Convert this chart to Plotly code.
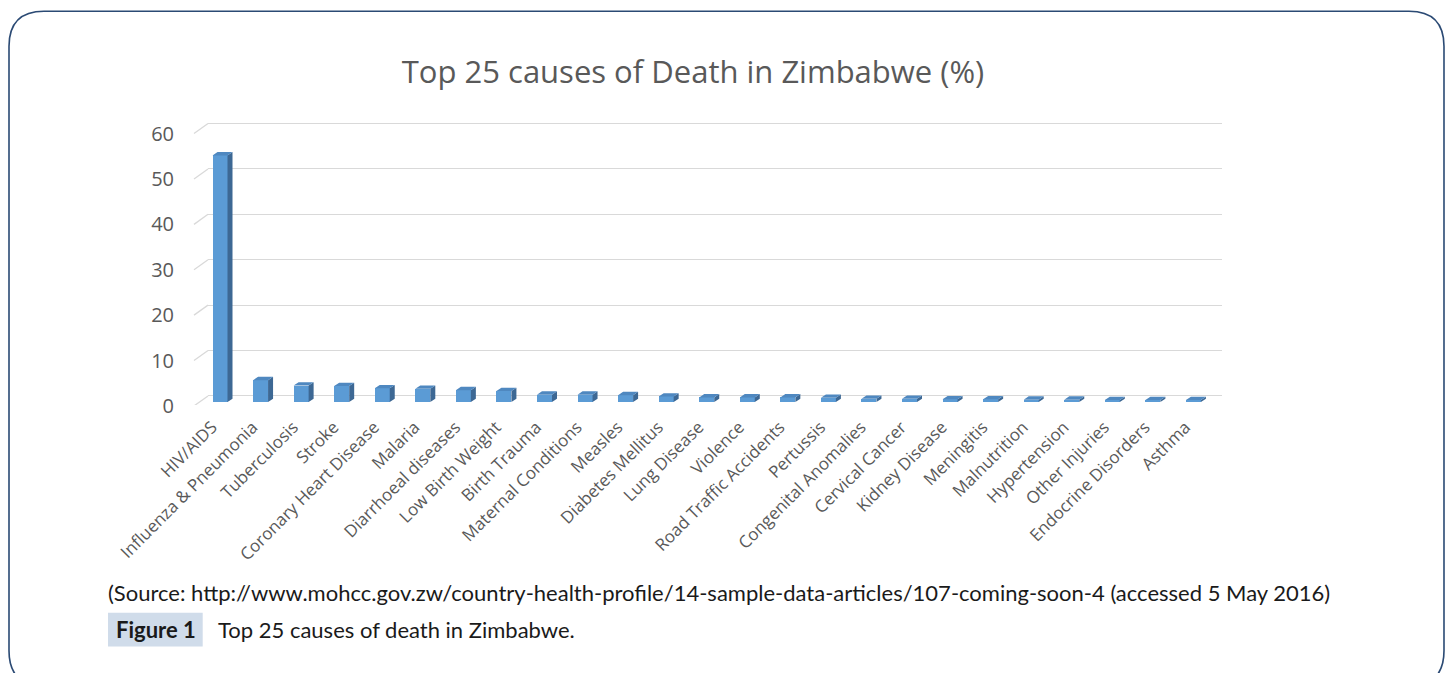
import plotly.graph_objects as go

# ---------------- data ----------------
causes = ["HIV/AIDS", "Influenza & Pneumonia", "Tuberculosis", "Stroke",
          "Coronary Heart Disease", "Malaria", "Diarrhoeal diseases",
          "Low Birth Weight", "Birth Trauma", "Maternal Conditions", "Measles",
          "Diabetes Mellitus", "Lung Disease", "Violence", "Road Traffic Accidents",
          "Pertussis", "Congenital Anomalies", "Cervical Cancer", "Kidney Disease",
          "Meningitis", "Malnutrition", "Hypertension", "Other Injuries",
          "Endocrine Disorders", "Asthma"]
percent = [54.3, 4.8, 3.6, 3.5, 3.0, 2.9, 2.6, 2.4, 1.6, 1.6, 1.5, 1.2, 1.0,
           1.0, 1.0, 0.9, 0.7, 0.7, 0.6, 0.6, 0.5, 0.5, 0.4, 0.4, 0.4]
y_ticks = [0, 10, 20, 30, 40, 50, 60]

title_text = "Top 25 causes of Death in Zimbabwe (%)"
source_text = ("(Source: http://www.mohcc.gov.zw/country-health-profile/"
               "14-sample-data-articles/107-coming-soon-4 (accessed 5 May 2016)")
fig_label = "Figure 1"
fig_caption = "Top 25 causes of death in Zimbabwe."

# ---------------- styling / geometry ----------------
W, H = 1453, 673
PAGE = 8  # browser body margin
PLOT_L, PLOT_R = 208, 1222
Y_MIN, Y_MAX = -2, 61
PX_PER_UNIT = (395.7 - 124.0) / 60.0
PLOT_T = 124.0 - (Y_MAX - 60) * PX_PER_UNIT
PLOT_B = 395.7 - Y_MIN * PX_PER_UNIT
CAT_PX = (PLOT_R - PLOT_L) / len(causes)
X0 = -(220 - PLOT_L) / CAT_PX  # category value at left edge of plot

BAR_W = 0.37
DEPTH_DX = 5.0 / CAT_PX
DEPTH_DY = 3.3 / PX_PER_UNIT
FRONT_DROP = 6.0 / PX_PER_UNIT

FRONT = "#5b9bd5"
SIDE = "#3d6894"
TOP = "#4f88c0"
TEXT = "#595959"
GRID = "#d9d9d9"
BORDER = "#2b4a74"


def px_to_paper_x(px):
    return (px - PLOT_L) / (PLOT_R - PLOT_L)


def px_to_paper_y(py):
    return (PLOT_B - py) / (PLOT_B - PLOT_T)


idx = list(range(len(causes)))

fig = go.Figure()

# front faces
fig.add_trace(go.Bar(
    x=idx, y=percent, base=[-FRONT_DROP] * len(percent), width=BAR_W,
    marker=dict(color=FRONT, line=dict(width=0)), hoverinfo="skip",
    showlegend=False))

# side faces
sx, sy = [], []
for i, v in zip(idx, percent):
    r = i + BAR_W / 2
    sx += [r, r + DEPTH_DX, r + DEPTH_DX, r, r, None]
    sy += [-FRONT_DROP, -FRONT_DROP + DEPTH_DY, v - FRONT_DROP + DEPTH_DY,
           v - FRONT_DROP, -FRONT_DROP, None]
fig.add_trace(go.Scatter(x=sx, y=sy, mode="lines", fill="toself",
                         fillcolor=SIDE, line=dict(width=0, color=SIDE),
                         hoverinfo="skip", showlegend=False))

# top faces
tx, ty = [], []
for i, v in zip(idx, percent):
    l, r = i - BAR_W / 2, i + BAR_W / 2
    top = v - FRONT_DROP
    tx += [l, r, r + DEPTH_DX, l + DEPTH_DX, l, None]
    ty += [top, top, top + DEPTH_DY, top + DEPTH_DY, top, None]
fig.add_trace(go.Scatter(x=tx, y=ty, mode="lines", fill="toself",
                         fillcolor=TOP, line=dict(width=0, color=TOP),
                         hoverinfo="skip", showlegend=False))

shapes = []
# side-wall diagonals for gridlines
for g in y_ticks:
    shapes.append(dict(type="line", xref="paper", yref="y",
                       x0=px_to_paper_x(194), x1=0,
                       y0=g - 10 / PX_PER_UNIT, y1=g,
                       line=dict(color=GRID, width=1.3), layer="below"))

# outer rounded border
r = 35
L, T, R, B = 9, 12, 1444, 685
path_px = [("M", L, B - r), ("L", L, T + r), ("Q", L, T, L + r, T),
           ("L", R - r, T), ("Q", R, T, R, T + r), ("L", R, B - r),
           ("Q", R, B, R - r, B), ("L", L + r, B), ("Q", L, B, L, B - r)]
path = ""
for seg in path_px:
    cmd = seg[0]
    pts = seg[1:]
    coords = []
    for k in range(0, len(pts), 2):
        coords.append(f"{px_to_paper_x(pts[k]):.5f},{px_to_paper_y(pts[k+1]):.5f}")
    path += cmd + " " + " ".join(coords) + " "
shapes.append(dict(type="path", xref="paper", yref="paper", path=path,
                   line=dict(color=BORDER, width=1.6), layer="above"))

# label box behind "Figure 1"
shapes.append(dict(type="rect", xref="paper", yref="paper",
                   x0=px_to_paper_x(108), x1=px_to_paper_x(202.7),
                   y0=px_to_paper_y(645.7), y1=px_to_paper_y(612),
                   fillcolor="#d0dcea", line=dict(width=0), layer="below"))

CAP_FONT = dict(family="Lato", size=22, color="#1a1a1a")
annotations = [
    dict(text=source_text, xref="paper", yref="paper",
         x=px_to_paper_x(106), y=px_to_paper_y(592), xanchor="left",
         yanchor="middle", showarrow=False, font=CAP_FONT),
    dict(text="<b>" + fig_label + "</b>", xref="paper", yref="paper",
         x=px_to_paper_x(155.5), y=px_to_paper_y(629), xanchor="center",
         yanchor="middle", showarrow=False, font=CAP_FONT),
    dict(text=fig_caption, xref="paper", yref="paper",
         x=px_to_paper_x(216), y=px_to_paper_y(629), xanchor="left",
         yanchor="middle", showarrow=False, font=CAP_FONT),
]

FW, FH = W - PAGE, H - PAGE
fig.update_layout(
    width=FW, height=FH,
    margin=dict(l=PLOT_L - PAGE, r=W - PLOT_R, t=PLOT_T - PAGE, b=H - PLOT_B,
                pad=0),
    paper_bgcolor="white", plot_bgcolor="white",
    title=dict(text=title_text, x=(693 - PAGE) / FW, xanchor="center",
               xref="container", y=1 - (72 - PAGE) / FH, yanchor="middle",
               yref="container",
               font=dict(family="Open Sans", size=31, color=TEXT)),
    font=dict(family="Open Sans", color=TEXT),
    shapes=shapes, annotations=annotations,
    showlegend=False, bargap=0,
)
fig.update_xaxes(
    range=[X0, X0 + len(causes)], tickmode="array", tickvals=idx,
    ticktext=causes, tickangle=-45, showgrid=False, zeroline=False,
    showline=False, ticks="", tickfont=dict(size=17, color=TEXT),
    ticklabelstandoff=8, ticklabelshift=-8, fixedrange=True)
fig.update_yaxes(
    range=[Y_MIN, Y_MAX], tickmode="array", tickvals=y_ticks,
    showgrid=True, gridcolor=GRID, gridwidth=1.3, zeroline=False,
    showline=False, ticks="", tickfont=dict(size=20, color=TEXT),
    ticklabelstandoff=33, ticklabelshift=10, fixedrange=True)

fig.write_html("out.html")
